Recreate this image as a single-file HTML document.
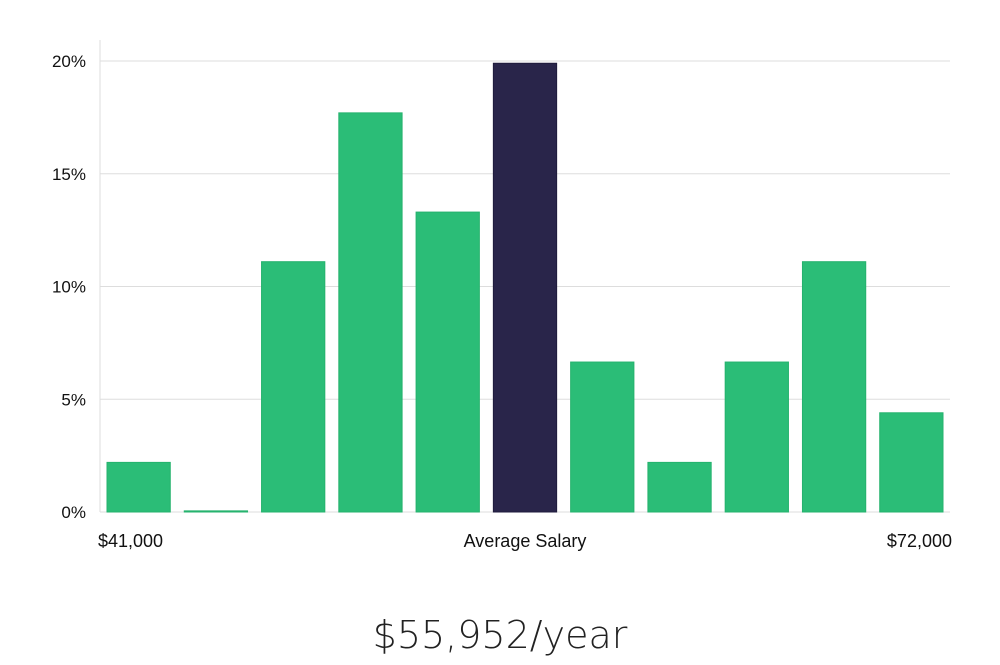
<!DOCTYPE html>
<html><head><meta charset="utf-8"><style>
html,body{margin:0;padding:0;background:#fff;}
body{width:1000px;height:660px;overflow:hidden;font-family:"Liberation Sans","DejaVu Sans",sans-serif;}
</style></head><body>
<svg id="chart" width="1000" height="660" xmlns="http://www.w3.org/2000/svg">
<g id="grid"></g><g id="bars"></g><g id="labels"></g>
<text x="500" y="648" text-anchor="middle" font-size="38" fill="#222" font-family="'DejaVu Sans','Liberation Sans',sans-serif" font-weight="200">$55,952/year</text>
</svg>
<script>
const categories = ["b1","b2","b3","b4","b5","b6","b7","b8","b9","b10","b11"];
const values = [2.2, 0.05, 11.1, 17.7, 13.3, 19.9, 6.65, 2.2, 6.65, 11.1, 4.4];
const highlightIndex = 5;
const yTicks = [0, 5, 10, 15, 20];
const yTickLabels = ["0%","5%","10%","15%","20%"];
const xLabels = ["$41,000","Average Salary","$72,000"];
const NS="http://www.w3.org/2000/svg";
const x0=100,x1=950,yBase=512,yTop=61;
const y=v=>yBase-(v/20)*(yBase-yTop);
const step=(x1-x0)/categories.length;
const xb=i=>x0+i*step;
function mk(t,a,p){const e=document.createElementNS(NS,t);for(const k in a)e.setAttribute(k,a[k]);p.appendChild(e);return e;}
const grid=document.getElementById('grid'),bars=document.getElementById('bars'),lab=document.getElementById('labels');
const ax=mk('line',{x1:x0,x2:x0,y1:40,y2:yBase,stroke:'#ddd','stroke-width':1},grid);


yTicks.forEach((t,i)=>{
  const g=mk('line',{x1:x0,x2:x1,y1:y(t),y2:y(t),stroke:'#ddd','stroke-width':1},grid);
  
  
  const tx=mk('text',{x:86,y:y(t)+6,'text-anchor':'end','font-size':17,fill:'#111'},lab);
  tx.textContent=yTickLabels[i];
  
  
});
values.forEach((v,i)=>{
  const hi=i===highlightIndex;
  const r=mk('rect',{x:xb(i)+7,y:y(v),width:step-14,height:Math.max(1,yBase-y(v)),fill:hi?'#29254a':'#2bbd77',stroke:hi?'#1f1b3c':'#25b26d','stroke-width':1},bars);
  
  
});
const xpos=[[98,'start'],[525,'middle'],[952,'end']];
xLabels.forEach((s,i)=>{
  const t=mk('text',{x:xpos[i][0],y:547,'text-anchor':xpos[i][1],'font-size':18,fill:'#111'},lab);
  t.textContent=s;
  
  
});
</script>
</body></html>
